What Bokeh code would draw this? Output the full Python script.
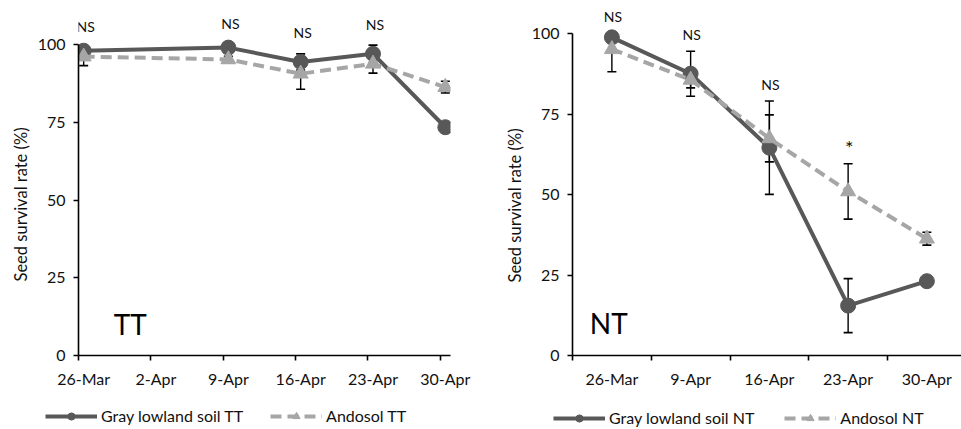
import numpy as np
from bokeh.plotting import figure
from bokeh.layouts import row, column
from bokeh.models import (Range1d, FixedTicker, Legend, LegendItem, ColumnDataSource, Label,
                          LabelSet, Title)
from bokeh.core.properties import value
from bokeh.embed import file_html
from bokeh.resources import INLINE

FONT = "Lato"

# ---------------- data ----------------
# TT panel: sampling days counted from 26-Mar
tt_days = [0, 14, 21, 28, 35]
tt_tick_days = [0, 7, 14, 21, 28, 35]
tt_tick_labels = ["26-Mar", "2-Apr", "9-Apr", "16-Apr", "23-Apr", "30-Apr"]
gray_tt = [98.0, 99.0, 94.4, 97.0, 73.4]
gray_tt_err = [1.0, 1.0, 2.6, 2.8, 1.0]
andosol_tt = [96.1, 95.2, 90.6, 93.8, 86.3]
andosol_tt_err = [2.9, 1.0, 5.0, 3.0, 1.9]
sig_tt = ["NS", "NS", "NS", "NS", ""]

# NT panel: categorical dates
nt_dates = ["26-Mar", "9-Apr", "16-Apr", "23-Apr", "30-Apr"]
gray_nt = [98.9, 87.6, 64.6, 15.5, 23.1]
gray_nt_err = [1.0, 7.0, 14.5, 8.4, 1.0]
andosol_nt = [95.2, 85.7, 67.5, 51.0, 36.3]
andosol_nt_err = [7.0, 2.5, 7.3, 8.6, 2.0]
sig_nt = ["NS", "NS", "NS", "*", ""]

y_ticks = [0, 25, 50, 75, 100]
y_title = "Seed survival rate (%)"

GRAY = "#585858"
LIGHT = "#a6a6a6"
TXT = "#111111"


def style_axes(p, title_offset):
    for ax in (p.xaxis[0], p.yaxis[0]):
        ax.axis_line_color = "black"
        ax.axis_line_width = 1.6
        ax.major_tick_line_color = "black"
        ax.minor_tick_line_color = "black"
        ax.major_tick_line_width = 1.6
        ax.minor_tick_line_width = 1.6
        ax.major_label_text_font = FONT
        ax.major_label_text_font_size = "16px"
        ax.major_label_text_color = TXT
    p.yaxis.ticker = FixedTicker(ticks=y_ticks)
    p.yaxis.bounds = (0, 100)
    p.yaxis.major_tick_in = 0
    p.yaxis.major_tick_out = 5
    p.yaxis.minor_tick_out = 0
    p.yaxis.major_label_standoff = 8
    p.xaxis.major_tick_in = 0
    p.xaxis.major_tick_out = 0
    p.xaxis.minor_tick_in = 0
    p.xaxis.minor_tick_out = 5
    p.xaxis.major_label_standoff = 8
    p.xgrid.visible = False
    p.ygrid.visible = False
    p.outline_line_color = None
    p.background_fill_color = "white"
    p.border_fill_color = "white"
    # y-axis title, placed along the 0-100 part of the axis
    p.add_layout(Title(text=y_title, align="left", offset=title_offset, standoff=8,
                       text_font=FONT, text_font_size="16.5px", text_font_style="normal",
                       text_color=TXT), "left")


def draw_series(p, xs, y, dash, marker, color, size):
    kw = dict(line_color=color, line_width=4)
    if dash:
        kw["line_dash"] = dash
    ln = p.line(xs, y, **kw)
    mk = p.scatter(xs, y, marker=marker, size=size, fill_color=color, line_color=color)
    return ln, mk


def draw_panel(p, xs, gray, gerr, ando, aerr, sig, label_offset, label_dx):
    gray = np.array(gray); gerr = np.array(gerr)
    ando = np.array(ando); aerr = np.array(aerr)
    xs = np.array(xs, dtype=float)
    # error bars (clipped at the 100 % top of the axis as in the original)
    for y, e in ((gray, gerr), (ando, aerr)):
        lo = y - e
        hi_raw = y + e
        hi = np.minimum(hi_raw, 100)
        p.segment(x0=xs, y0=lo, x1=xs, y1=hi, line_color="black", line_width=1.4)
        p.scatter(x=xs, y=lo, marker="dash", size=9, line_color="black", line_width=1.6)
        keep = hi_raw <= 100
        p.scatter(x=xs[keep], y=hi[keep], marker="dash", size=9, line_color="black", line_width=1.6)
    draw_series(p, xs, gray, None, "circle", GRAY, 15)
    draw_series(p, xs, ando, "11 6", "triangle", LIGHT, 15)
    # significance labels above the highest error bar
    top = np.maximum(np.minimum(gray + gerr, 100), np.minimum(ando + aerr, 100))
    fsize = ["20px" if s == "*" else "14px" for s in sig]
    src = ColumnDataSource(dict(x=xs, y=top, t=sig, fs=fsize))
    p.add_layout(LabelSet(x="x", y="y", text="t", source=src, text_font=value(FONT),
                          text_font_size="fs", text_align="center",
                          text_baseline="middle", y_offset=label_offset, x_offset=label_dx,
                          text_color=TXT))


def legend_fig(width, suffix, loc, spacing):
    f = figure(width=width, height=37, output_backend="svg", toolbar_location=None,
               x_range=Range1d(0, 1), y_range=Range1d(0, 1), x_axis_type=None, y_axis_type=None,
               min_border=0)
    f.outline_line_color = None
    f.xgrid.visible = False
    f.ygrid.visible = False
    f.background_fill_color = "white"
    f.border_fill_color = "white"
    gl, gm = draw_series(f, [-5, -4], [-5, -5], None, "circle", GRAY, 14)
    al, am = draw_series(f, [-5, -4], [-5, -5], "11 6", "triangle", LIGHT, 15)
    legend = Legend(items=[
        LegendItem(label="Gray lowland soil " + suffix, renderers=[gl, gm]),
        LegendItem(label="Andosol " + suffix, renderers=[al, am]),
    ], location=loc, orientation="horizontal")
    legend.border_line_color = None
    legend.background_fill_alpha = 0
    legend.label_text_font = FONT
    legend.label_text_font_size = "16px"
    legend.label_text_color = TXT
    legend.glyph_width = 52
    legend.glyph_height = 18
    legend.label_standoff = 4
    legend.spacing = spacing
    legend.padding = 0
    legend.margin = 0
    f.add_layout(legend)
    return f


# ---------------- left panel (TT) ----------------
p1 = figure(width=480, height=392, output_backend="svg", toolbar_location=None,
            x_range=Range1d(0, 36), y_range=Range1d(0, 355 / 3.11),
            min_border_left=78, min_border_right=30, min_border_top=0, min_border_bottom=37)
style_axes(p1, 74)
p1.xaxis.ticker = FixedTicker(ticks=[d + 0.5 for d in tt_tick_days], minor_ticks=tt_tick_days)
p1.xaxis.major_label_overrides = {d + 0.5: lab for d, lab in zip(tt_tick_days, tt_tick_labels)}
draw_panel(p1, [d + 0.5 for d in tt_days], gray_tt, gray_tt_err, andosol_tt, andosol_tt_err,
           sig_tt, 21, 2)
p1.add_layout(Label(x=3.4, y=10.2, text="TT", text_font=FONT, text_font_size="28px",
                    text_color="black", text_baseline="alphabetic"))

# ---------------- right panel (NT) ----------------
n = len(nt_dates)
p2 = figure(width=481, height=392, output_backend="svg", toolbar_location=None,
            x_range=Range1d(0, 389 / 78.75), y_range=Range1d(0, 357 / 3.235),
            min_border_left=92, min_border_right=0, min_border_top=0, min_border_bottom=35)
style_axes(p2, 73)
cat_x = [i + 0.5 for i in range(n)]
p2.xaxis.ticker = FixedTicker(ticks=cat_x, minor_ticks=list(range(n)))
p2.xaxis.major_label_overrides = {x: lab for x, lab in zip(cat_x, nt_dates)}
draw_panel(p2, cat_x, gray_nt, gray_nt_err, andosol_nt, andosol_nt_err, sig_nt, 17, 1)
p2.add_layout(Label(x=0.22, y=10.2, text="NT", text_font=FONT, text_font_size="28px",
                    text_color="black", text_baseline="alphabetic"))

leg1 = legend_fig(480, "TT", (45, 4), 27)
leg2 = legend_fig(481, "NT", (73, 2), 30)

layout = column(row(p1, p2, spacing=0), row(leg1, leg2, spacing=0), spacing=0)
open("out.html", "w").write(file_html(layout, INLINE))
